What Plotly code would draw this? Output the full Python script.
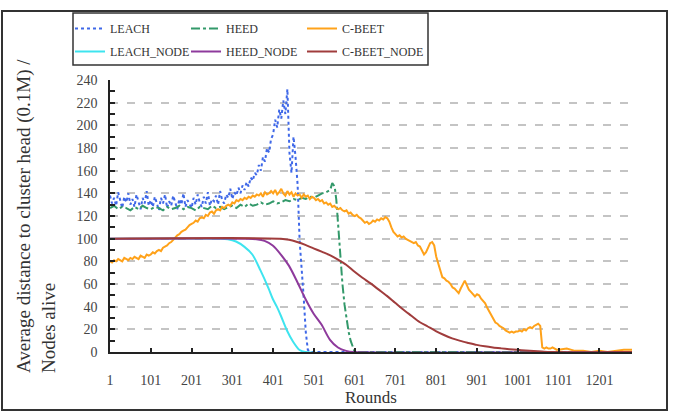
import plotly.graph_objects as go

# ---------------- data ----------------
LEACH_ROUNDS = list(range(1, 487, 5)) + [491, 1281]
LEACH = [
    138, 131, 136, 129, 141, 133, 127, 137, 132, 140, 130, 135, 128, 139, 133, 126, 136, 131, 142, 129,
    134, 128, 137, 130, 125, 136, 131, 139, 127, 133, 129, 138, 132, 126, 135, 130, 140, 128, 134, 131,
    127, 136, 130, 139, 132, 128, 137, 131, 141, 129, 135, 133, 138, 130, 142, 134, 131, 139, 136, 144,
    135, 141, 138, 145, 140, 147, 143, 150, 146, 154, 151, 158, 156, 165, 160, 172, 168, 180, 176, 188,
    192, 205, 198, 214, 206, 222, 210, 232, 176, 158, 190, 172, 148, 98, 76, 48, 18, 2,
    0, 0,
]

HEED_ROUNDS = list(range(1, 542, 10)) + [546, 552, 556, 561, 566, 571, 576, 581, 586, 591, 596, 601, 1281]
HEED = [
    127, 129, 126, 128, 127, 125, 128, 126, 129, 127,
    126, 128, 127, 125, 128, 126, 127, 129, 126, 128,
    127, 125, 128, 127, 126, 129, 127, 128, 126, 128,
    129, 127, 130, 128, 131, 129, 130, 132, 130, 131,
    133, 131, 132, 134, 133, 135, 134, 136, 135, 137,
    136, 138, 140, 141, 143,
    149, 146, 134, 108, 82, 60, 42, 28, 18, 10, 4, 0, 0,
]

CBEET_ROUNDS = list(range(1, 1097, 5)) + list(range(1101, 1282, 20))
CBEET = [
    80, 79, 81, 80, 82, 81, 80, 83, 82, 81, 83, 82, 84, 83, 82, 85, 84, 83, 86, 85,
    86, 88, 87, 89, 90, 89, 92, 93, 94, 96, 97, 99, 101, 103, 104, 106, 107, 108, 110, 112,
    113, 114, 116, 115, 118, 119, 118, 121, 120, 123, 124, 122, 125, 126, 125, 128, 127, 129, 130, 129,
    132, 131, 134, 133, 135, 134, 136, 135, 137, 136, 138, 137, 139, 138, 140, 137, 141, 139, 140, 142,
    140, 143, 139, 141, 144, 140, 138, 142, 139, 141, 137, 140, 138, 139, 136, 139, 137, 138, 135, 137,
    136, 134, 135, 133, 134, 131, 132, 130, 131, 128, 129, 127, 126, 127, 125, 124, 125, 122, 123, 121,
    120, 121, 119, 118, 116, 114, 115, 113, 114, 116, 115, 117, 116, 118, 117, 119, 118, 115, 110, 106,
    104, 102, 103, 101, 102, 100, 99, 98, 97, 96, 97, 94, 93, 90, 86, 88, 92, 96, 97, 94,
    84, 78, 72, 66, 65, 63, 62, 60, 57, 56, 54, 52, 56, 60, 63, 59, 55, 53, 51, 49,
    51, 50, 47, 45, 43, 39, 36, 33, 29, 26, 25, 23, 22, 21, 19, 18, 17, 18, 17, 18,
    18, 19, 18, 20, 19, 21, 22, 21, 23, 24, 25, 23, 4, 3, 4, 3, 3, 4, 3, 2,
    2, 3, 1, 1, 0, 1, 0, 1, 2, 2,
]

LEACH_NODE_ROUNDS = [1, 270, 290, 310, 330, 350, 370, 390, 400, 410, 420, 435, 450, 465, 480, 1281]
LEACH_NODE = [100, 100, 99.5, 97.5, 93, 86, 72, 56, 47, 40, 32, 19, 9, 2, 0, 0]

HEED_NODE_ROUNDS = [1, 340, 360, 380, 400, 420, 440, 460, 480, 500, 520, 540, 560, 580, 600, 1281]
HEED_NODE = [100, 100, 99.5, 98, 94, 86, 76, 62, 47, 34, 24, 11, 4, 1, 0, 0]

CBEET_NODE_ROUNDS = [1, 420, 440, 460, 480, 500, 520, 540, 560, 580, 600, 620, 640, 660, 680, 700,
                     720, 740, 760, 780, 800, 820, 840, 860, 880, 900, 920, 940, 960, 980, 1000,
                     1020, 1040, 1060, 1080, 1281]
CBEET_NODE = [100, 100, 99, 97, 94.5, 91.5, 88.5, 85.5, 81.5, 77, 71, 65.5, 60.5, 55, 49.5, 43.5,
              37.5, 32, 26.5, 22.5, 18.5, 15, 12, 9.8, 8, 6.3, 5, 4, 3.2, 2.5, 1.9,
              1.3, 0.8, 0.4, 0, 0]

X_TICKS = [1, 101, 201, 301, 401, 501, 601, 701, 801, 901, 1001, 1101, 1201]
Y_TICKS = list(range(0, 241, 20))

# ---------------- figure ----------------
W, H = 676, 413
L, R, T, B = 110, 44, 80, 61
PW, PH = W - L - R, H - T - B


def px(x):
    return (x - L) / PW


def py(y):
    return (H - B - y) / PH


FONT = "Liberation Serif"

fig = go.Figure()
fig.add_trace(go.Scatter(x=LEACH_ROUNDS, y=LEACH, name="LEACH", mode="lines",
                         line=dict(color="#3f68e8", width=2, dash="dot"), legend="legend"))
fig.add_trace(go.Scatter(x=HEED_ROUNDS, y=HEED, name="HEED", mode="lines",
                         line=dict(color="#33996a", width=2, dash="dashdot"), legend="legend"))
fig.add_trace(go.Scatter(x=CBEET_ROUNDS, y=CBEET, name="C-BEET", mode="lines", legendwidth=100,
                         line=dict(color="#ffa21a", width=2), legend="legend"))
fig.add_trace(go.Scatter(x=LEACH_NODE_ROUNDS, y=LEACH_NODE, name="LEACH_NODE", mode="lines",
                         line=dict(color="#3ee4ef", width=2, shape="spline", smoothing=0.8),
                         legend="legend2"))
fig.add_trace(go.Scatter(x=HEED_NODE_ROUNDS, y=HEED_NODE, name="HEED_NODE", mode="lines",
                         line=dict(color="#8e3a9c", width=2, shape="spline", smoothing=0.8),
                         legend="legend2"))
fig.add_trace(go.Scatter(x=CBEET_NODE_ROUNDS, y=CBEET_NODE, name="C-BEET_NODE", mode="lines",
                         legendwidth=100,
                         line=dict(color="#a03c3c", width=2, shape="spline", smoothing=0.8),
                         legend="legend2"))

legend_common = dict(orientation="h", xanchor="left", yanchor="top",
                     font=dict(family=FONT, size=12, color="#333333"),
                     bgcolor="rgba(0,0,0,0)", borderwidth=0,
                     entrywidth=71, entrywidthmode="pixels", itemwidth=30,
                     tracegroupgap=0)

fig.update_layout(
    width=W, height=H,
    margin=dict(l=L, r=R, t=T, b=B, autoexpand=False),
    paper_bgcolor="white", plot_bgcolor="white",
    font=dict(family=FONT, size=14, color="#333333"),
    showlegend=True,
    legend=dict(x=px(70), y=py(14), **legend_common),
    legend2=dict(x=px(70), y=py(37), **legend_common),
    xaxis=dict(range=[1, 1281], tickvals=X_TICKS, ticktext=[str(v) for v in X_TICKS],
               showgrid=False, zeroline=False, showline=True, linecolor="#222222", linewidth=1.5,
               ticks="inside", ticklen=4, tickcolor="#222222", tickwidth=1.5, ticklabelstandoff=14,
               tickfont=dict(family=FONT, size=14, color="#444444"),
               title=dict(text="Rounds", font=dict(family=FONT, size=17, color="#333333"), standoff=2)),
    yaxis=dict(range=[0, 240], tickvals=Y_TICKS, showgrid=True, gridcolor="#c4c4c4", gridwidth=1.5,
               griddash="8px,9px", zeroline=False, showline=True, linecolor="#222222", linewidth=1.5,
               ticks="inside", ticklen=5, tickcolor="#222222", tickwidth=1.5, ticklabelstandoff=8,
               minor=dict(dtick=10, ticks="inside", ticklen=5, tickcolor="#222222", tickwidth=1.5,
                          showgrid=False),
               tickfont=dict(family=FONT, size=14, color="#444444")),
    shapes=[
        dict(type="rect", xref="paper", yref="paper", x0=px(2), x1=px(667), y0=py(410), y1=py(11),
             line=dict(color="#333333", width=2), layer="below"),
        dict(type="rect", xref="paper", yref="paper", x0=px(73), x1=px(428), y0=py(65), y1=py(13),
             line=dict(color="#333333", width=1.5)),
    ],
    annotations=[
        dict(text="Average distance to cluster head (0.1M) /<br>Nodes alive", xref="paper", yref="paper",
             x=px(36), y=py(216), xanchor="center", yanchor="middle", textangle=-90, align="left",
             showarrow=False, font=dict(family=FONT, size=19, color="#333333")),
    ],
)

fig.write_html("out.html")
